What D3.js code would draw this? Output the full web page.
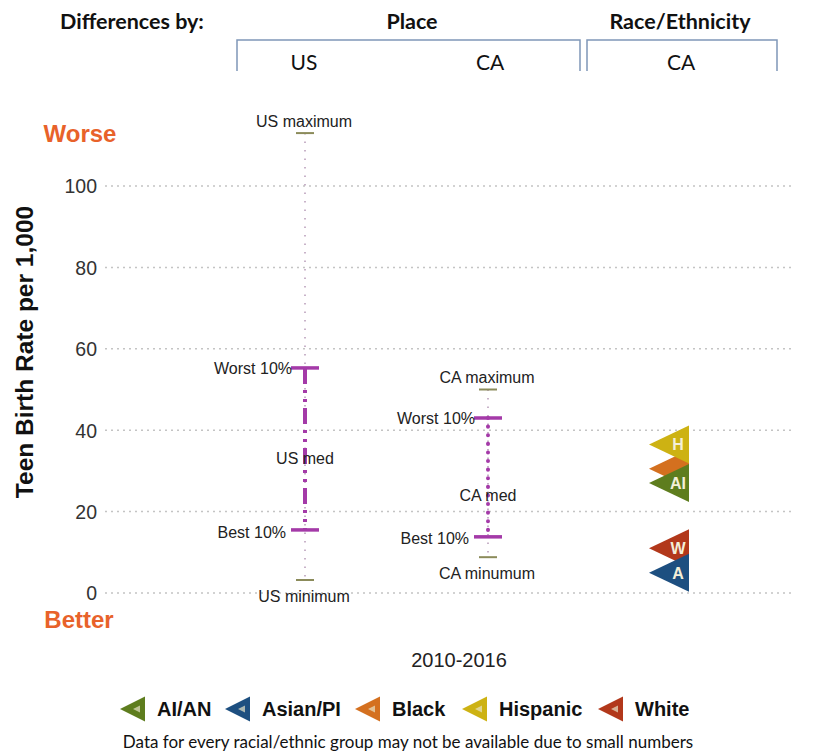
<!DOCTYPE html>
<html><head><meta charset="utf-8">
<script src="https://cdn.jsdelivr.net/npm/d3@7"></script>
<style>
body{margin:0;background:#fff;}
svg{display:block;}
</style></head>
<body>
<svg id="c" width="817" height="754"></svg>
<script>
// ---- data ----
const places = ["US", "CA"];
const maxValues = [113, 50];
const worst10 = [55.3, 43];
const medianValues = [33, 24];
const best10 = [15.5, 13.8];
const minValues = [3.2, 8.8];
const maxLabels = ["US maximum", "CA maximum"];
const medLabels = ["US med", "CA med"];
const minLabels = ["US minimum", "CA minumum"];

const raceNames = ["Black", "Hispanic", "AI/AN", "White", "Asian/PI"];
const raceCodes = ["", "H", "AI", "W", "A"];
const raceValues = [30.5, 36.5, 27, 11, 5];
const raceColors = ["#d4701f", "#cdb213", "#5e7d1e", "#b2381b", "#1d4f80"];

const legendNames = ["AI/AN", "Asian/PI", "Black", "Hispanic", "White"];
const legendColors = ["#5e7d1e", "#1d4f80", "#d4701f", "#cdb213", "#b2381b"];

const yTicks = [0, 20, 40, 60, 80, 100];
const columns = ["US", "CA", "CA-race"];

// ---- setup ----
const svg = d3.select("#c");
const y = d3.scaleLinear().domain([0, 100]).range([593, 186]);
const x = d3.scalePoint().domain(columns).range([305, 671]);
const hdrFont = "Lato, 'Open Sans', sans-serif";
const ax = "'Liberation Sans', Arial, sans-serif";

// header
svg.append("text").attr("x", 60).attr("y", 29).attr("font-family", hdrFont)
  .attr("font-weight", "bold").attr("font-size", 21.5).attr("fill", "#111").text("Differences by:");
svg.append("text").attr("x", 412).attr("y", 29).attr("text-anchor", "middle").attr("font-family", hdrFont)
  .attr("font-weight", "bold").attr("font-size", 21.5).attr("fill", "#111").text("Place");
svg.append("text").attr("x", 680).attr("y", 29).attr("text-anchor", "middle").attr("font-family", hdrFont)
  .attr("font-weight", "bold").attr("font-size", 21.5).attr("fill", "#111").text("Race/Ethnicity");
const bracket = (x0, x1) => svg.append("path")
  .attr("d", `M${x0},71 L${x0},40 L${x1},40 L${x1},71`)
  .attr("fill", "none").attr("stroke", "#7f97b8").attr("stroke-width", 1.5);
bracket(237, 580); bracket(587, 777);
[["US", 304], ["CA", 490], ["CA", 681]].forEach(([t, px]) =>
  svg.append("text").attr("x", px).attr("y", 70).attr("text-anchor", "middle").attr("font-family", hdrFont)
    .attr("font-size", 21).attr("fill", "#111").text(t));

// gridlines
svg.append("g").selectAll("line").data(yTicks).join("line")
  .attr("x1", 105).attr("x2", 792).attr("y1", d => y(d)).attr("y2", d => y(d))
  .attr("stroke", "#c4c4c4").attr("stroke-width", 1.5).attr("stroke-dasharray", "2,4");

// y axis
const yAxis = d3.axisLeft(y).tickValues(yTicks).tickSize(0).tickPadding(0);
const gy = svg.append("g").attr("transform", "translate(97,0)").call(yAxis);
gy.select(".domain").remove();
gy.selectAll("text").attr("font-family", ax).attr("font-size", 19.5).attr("fill", "#333").attr("dy", "0.35em");

svg.append("text").attr("transform", "translate(33,352) rotate(-90)").attr("text-anchor", "middle")
  .attr("font-family", ax).attr("font-weight", "bold").attr("font-size", 24.5).attr("fill", "#111")
  .text("Teen Birth Rate per 1,000");
svg.append("text").attr("x", 80).attr("y", 142).attr("text-anchor", "middle").attr("font-family", ax)
  .attr("font-weight", "bold").attr("font-size", 24).attr("fill", "#e8622a").text("Worse");
svg.append("text").attr("x", 79).attr("y", 628).attr("text-anchor", "middle").attr("font-family", ax)
  .attr("font-weight", "bold").attr("font-size", 24).attr("fill", "#e8622a").text("Better");

// place ranges
const purple = "#a43aa8";
places.forEach((p, i) => {
  const cx = x(p);
  const g = svg.append("g");
  g.append("line").attr("x1", cx).attr("x2", cx).attr("y1", y(maxValues[i])).attr("y2", y(minValues[i]))
    .attr("stroke", "#b79ab8").attr("stroke-width", 1.5).attr("stroke-dasharray", "1.5,7");
  g.append("line").attr("x1", cx).attr("x2", cx).attr("y1", y(worst10[i])).attr("y2", y(best10[i]))
    .attr("stroke", purple).attr("stroke-width", 4)
    .attr("stroke-linecap", i === 1 ? "round" : "butt")
    .attr("stroke-dasharray", i === 0 ? "16,6,3,6,3,6" : "0.1,8.5");
  [worst10[i], best10[i]].forEach(v =>
    g.append("line").attr("x1", cx - 14).attr("x2", cx + 14).attr("y1", y(v)).attr("y2", y(v))
      .attr("stroke", purple).attr("stroke-width", 3.5));
  [maxValues[i], minValues[i]].forEach(v =>
    g.append("line").attr("x1", cx - 9).attr("x2", cx + 9).attr("y1", y(v)).attr("y2", y(v))
      .attr("stroke", "#8b8b5a").attr("stroke-width", 2));
  const lf = (t, tx, ty, anchor) => g.append("text").attr("x", tx).attr("y", ty).attr("text-anchor", anchor)
    .attr("dy", "0.35em").attr("font-family", ax).attr("font-size", 16).attr("fill", "#222").text(t);
  lf(maxLabels[i], cx - 1, y(maxValues[i]) - 12, "middle");
  lf("Worst 10%", cx - 13, y(worst10[i]), "end");
  lf(medLabels[i], cx, y(medianValues[i]), "middle");
  lf("Best 10%", cx - 19, y(best10[i]) + 2, "end");
  lf(minLabels[i], cx - 1, y(minValues[i]) + 16, "middle");
});

// race triangles
const tri = (tipX, cy, w, h) => `M${tipX},${cy} L${tipX + w},${cy - h / 2} L${tipX + w},${cy + h / 2} Z`;
const rx = x("CA-race");
const rg = svg.append("g");
raceValues.forEach((v, i) => {
  const cy = y(v);
  rg.append("path").attr("d", tri(rx - 22, cy, 40, 38)).attr("fill", raceColors[i]);
  if (raceCodes[i]) rg.append("text").attr("x", rx + 7).attr("y", cy + 6).attr("text-anchor", "middle")
    .attr("font-family", ax).attr("font-weight", "bold").attr("font-size", 16).attr("fill", "#f4efd8")
    .text(raceCodes[i]);
});

// x label
svg.append("text").attr("x", 459).attr("y", 667).attr("text-anchor", "middle").attr("font-family", ax)
  .attr("font-size", 20).attr("fill", "#222").text("2010-2016");

// legend
const legX = [120, 225, 355, 462, 598];
legendNames.forEach((n, i) => {
  const lx = legX[i], ly = 709;
  svg.append("path").attr("d", tri(lx, ly, 25, 25)).attr("fill", legendColors[i]);
  svg.append("path").attr("d", tri(lx + 13, ly, 7, 7)).attr("fill", "#e8e4c8").attr("opacity", 0.7);
  svg.append("text").attr("x", lx + 37).attr("y", ly + 7).attr("font-family", ax)
    .attr("font-weight", "bold").attr("font-size", 20).attr("fill", "#111").text(n);
});
svg.append("text").attr("x", 408).attr("y", 748).attr("text-anchor", "middle").attr("font-family", hdrFont)
  .attr("font-size", 17).attr("fill", "#111")
  .text("Data for every racial/ethnic group may not be available due to small numbers");
</script>
</body></html>
